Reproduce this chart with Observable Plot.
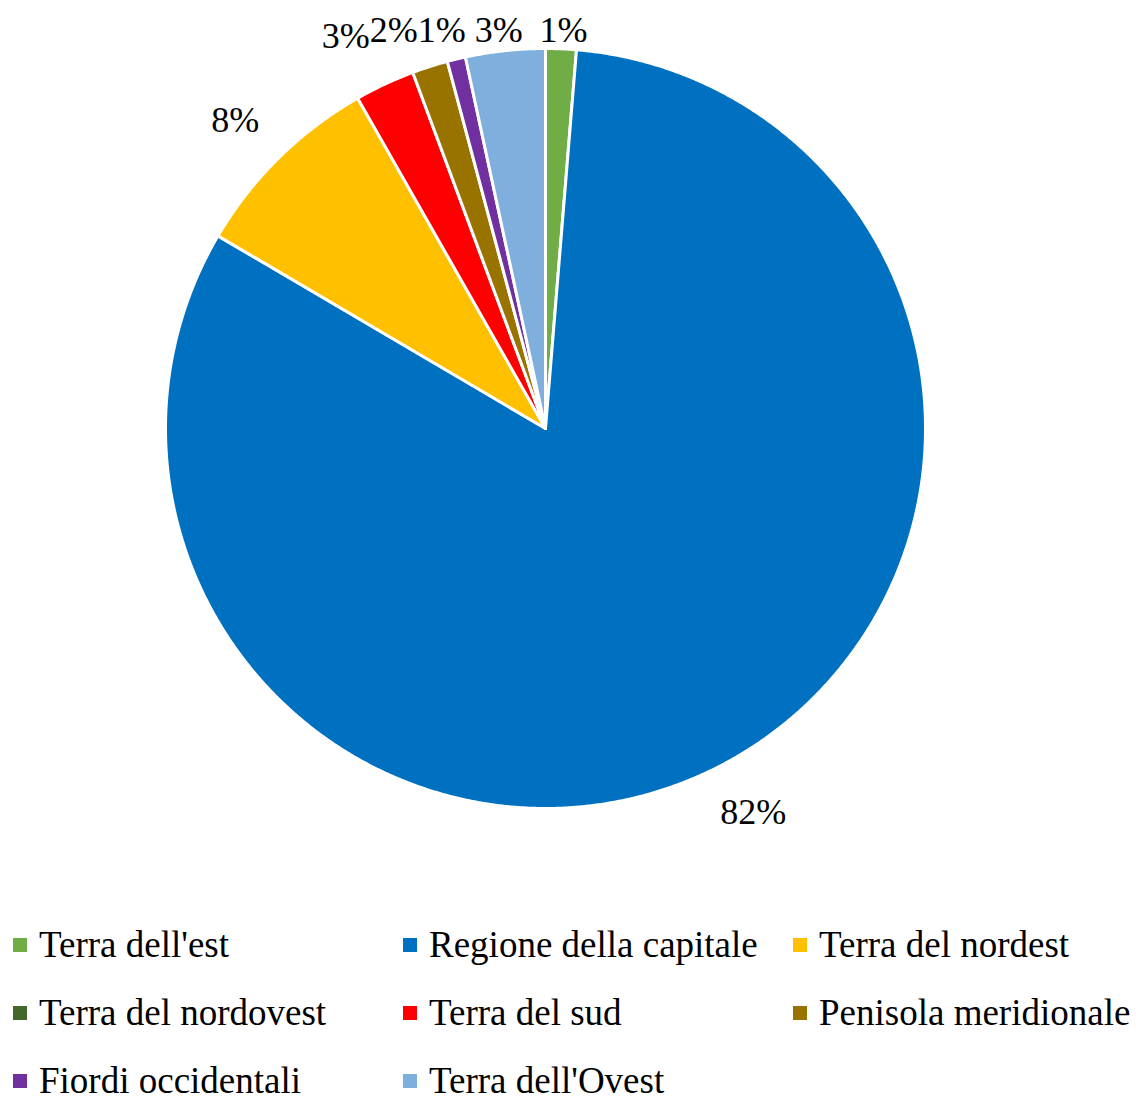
<!DOCTYPE html>
<html>
<head>
<meta charset="utf-8">
<script src="https://cdn.jsdelivr.net/npm/d3@7"></script>
<script src="https://cdn.jsdelivr.net/npm/@observablehq/plot@0.6"></script>
<style>
  body { margin: 0; background: #fff; overflow: hidden; }
  #legend {
    margin-top: 30px;
    margin-left: 13px;
    display: grid;
    grid-template-columns: 390px 390px 340px;
    grid-auto-rows: 30px;
    row-gap: 38px;
    font-family: "Liberation Serif", "Times New Roman", serif;
    font-size: 37px;
    color: #000;
  }
  .item { display: flex; align-items: center; white-space: nowrap; line-height: 30px; height: 30px; }
  .sw { width: 14px; height: 14px; margin-right: 12px; flex: none; }
</style>
</head>
<body>
<div id="chart"></div>
<div id="legend"></div>
<script>
const names = ["Terra dell'est", "Regione della capitale", "Terra del nordest", "Terra del nordovest", "Terra del sud", "Penisola meridionale", "Fiordi occidentali", "Terra dell'Ovest"];
const values = [1.3, 82.16, 8.31, 0, 2.55, 1.52, 0.78, 3.38];
const colors = ["#70AD47", "#0070C0", "#FFC000", "#43682B", "#FF0000", "#997300", "#7030A0", "#7EAFDD"];

(function () {
const W = 1136, H = 900, CX = 545, CY = 428, R = 380;
const total = d3.sum(values);
const arcs = d3.pie().sort(null).value(d => d)(values);

// slice polygons in unit coordinates (radius = 1)
const pts = [];
arcs.forEach((a, i) => {
  if (values[i] <= 0) return;
  const n = Math.max(2, Math.ceil((a.endAngle - a.startAngle) / (Math.PI / 720)));
  pts.push({name: names[i], x: 0, y: 0});
  for (let k = 0; k <= n; k++) {
    const t = a.startAngle + (a.endAngle - a.startAngle) * k / n;
    pts.push({name: names[i], x: Math.sin(t), y: Math.cos(t)});
  }
  pts.push({name: names[i], x: 0, y: 0});
});

// label layout (screen px), then converted to unit coordinates
const fs = 36, pad = 38, lh = 30;
let labels = [];
arcs.forEach((a, i) => {
  if (values[i] <= 0) return;
  const text = Math.round(values[i] / total * 100) + "%";
  const w = ((text.length - 1) * 0.5 + 0.833) * fs;
  const m = (a.startAngle + a.endAngle) / 2;
  const ux = Math.sin(m), uy = -Math.cos(m);
  let px = CX + ux * (R + pad) + ux * w / 2;
  let py = CY + uy * (R + pad) + uy * lh / 2;
  py = Math.max(py, 30);
  labels.push({text, px, py, w});
});
// resolve overlaps among top labels, sweeping right to left
const topRow = labels.filter(d => d.py < 70).sort((a, b) => a.px - b.px);
for (let k = topRow.length - 2; k >= 0; k--) {
  const r = topRow[k + 1], l = topRow[k];
  const maxX = r.px - r.w / 2 - l.w / 2;
  if (l.px > maxX) l.px = maxX;
}
const lab = labels.map(d => ({text: d.text, x: (d.px - CX) / R, y: (CY - d.py) / R}));

const chart = Plot.plot({
  width: W, height: H, margin: 0,
  x: {domain: [-CX / R, (W - CX) / R], axis: null},
  y: {domain: [(CY - H) / R, CY / R], axis: null},
  color: {domain: names, range: colors},
  marks: [
    Plot.line(pts, {x: "x", y: "y", z: "name", fill: "name", stroke: "white", strokeWidth: 3, strokeLinejoin: "round"}),
    Plot.text(lab, {x: "x", y: "y", text: "text", fontSize: fs, fontFamily: "Liberation Serif", fill: "black"})
  ]
});
chart.style.fontFamily = "Liberation Serif";
chart.style.display = "block";
document.getElementById("chart").appendChild(chart);

const leg = document.getElementById("legend");
names.forEach((n, i) => {
  const it = document.createElement("div");
  it.className = "item";
  const sw = document.createElement("span");
  sw.className = "sw";
  sw.style.background = colors[i];
  it.appendChild(sw);
  it.appendChild(document.createTextNode(n));
  leg.appendChild(it);
});
})();
</script>
</body>
</html>
